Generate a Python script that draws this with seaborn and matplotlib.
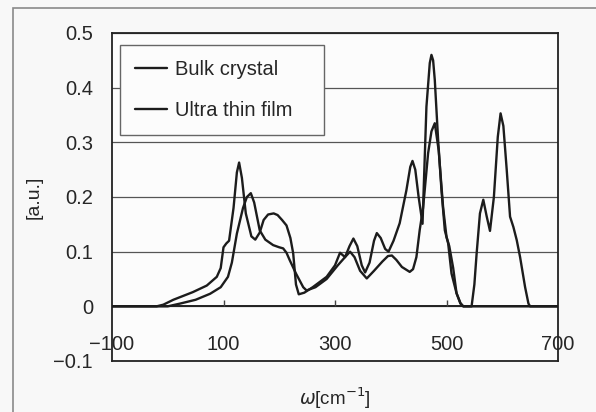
import numpy as np
import pandas as pd
import matplotlib.pyplot as plt
import seaborn as sns
from matplotlib.patches import Rectangle

# spectra
bulk_w = [-100, -20, -8, 10, 45, 70, 88, 95, 100, 105, 110, 118, 124, 128, 133, 140,
          150, 157, 165, 172, 180, 190, 197, 205, 213, 220, 225, 230, 235, 245, 260,
          285, 300, 309, 318, 326, 333, 340, 348, 354, 362, 370, 375, 382, 390, 396,
          405, 416, 428, 435, 439, 444, 450, 457, 464, 470, 473, 476, 479, 485, 491,
          497, 503, 509, 518, 525, 530, 700]
bulk_y = [0, 0, 0.003, 0.012, 0.026, 0.038, 0.054, 0.07, 0.108, 0.115, 0.12, 0.18,
          0.245, 0.263, 0.235, 0.17, 0.128, 0.122, 0.135, 0.158, 0.168, 0.170, 0.167,
          0.158, 0.148, 0.125, 0.097, 0.04, 0.022, 0.025, 0.035, 0.054, 0.075, 0.098,
          0.09, 0.11, 0.124, 0.11, 0.075, 0.062, 0.08, 0.12, 0.134, 0.125, 0.105, 0.1,
          0.12, 0.152, 0.212, 0.255, 0.266, 0.25, 0.2, 0.151, 0.365, 0.445, 0.46, 0.45,
          0.414, 0.304, 0.212, 0.139, 0.115, 0.06, 0.024, 0.006, 0, 0]

film_w = [-100, 0, 22, 50, 76, 95, 108, 115, 124, 135, 142, 149, 155, 165, 175, 189,
          200, 207, 213, 219, 230, 243, 249, 265, 285, 305, 318, 327, 335, 345, 357,
          370, 385, 395, 402, 410, 420, 434, 440, 446, 452, 458, 467, 473, 479, 486,
          494, 500, 505, 512, 518, 525, 530, 545, 550, 554, 560, 566, 572, 578, 585,
          592, 597, 602, 608, 614, 620, 626, 632, 641, 647, 650, 700]
film_y = [0, 0, 0.005, 0.012, 0.023, 0.035, 0.054, 0.08, 0.133, 0.18, 0.2, 0.207,
          0.19, 0.139, 0.122, 0.112, 0.108, 0.106, 0.098, 0.084, 0.06, 0.035, 0.029,
          0.035, 0.05, 0.075, 0.09, 0.1, 0.09, 0.065, 0.051, 0.065, 0.082, 0.092,
          0.093, 0.085, 0.072, 0.063, 0.068, 0.09, 0.14, 0.18, 0.28, 0.32, 0.335,
          0.285, 0.18, 0.127, 0.11, 0.07, 0.024, 0.005, 0, 0, 0.04, 0.096, 0.17,
          0.195, 0.165, 0.138, 0.2, 0.31, 0.353, 0.33, 0.25, 0.164, 0.145, 0.121,
          0.09, 0.035, 0.005, 0, 0]

labels = ['Bulk crystal', 'Ultra thin film']
xticks = [-100, 100, 300, 500, 700]
yticks = [-0.1, 0, 0.1, 0.2, 0.3, 0.4, 0.5]
ytick_labels = ['-0.1', '0', '0.1', '0.2', '0.3', '0.4', '0.5']

df = pd.concat([
    pd.DataFrame({'w': bulk_w, 'val': bulk_y, 'sample': labels[0]}),
    pd.DataFrame({'w': film_w, 'val': film_y, 'sample': labels[1]}),
])

sns.set_style('white')
plt.rcParams['font.family'] = ['Liberation Sans', 'DejaVu Sans']
plt.rcParams['font.size'] = 14

fig = plt.figure(figsize=(5.96, 4.12), dpi=100, facecolor='#f8f8f8')
ax = fig.add_axes([112 / 596, 51 / 412, 446 / 596, 328 / 412])
ax.set_facecolor('#fcfcfc')

sns.lineplot(data=df, x='w', y='val', hue='sample', palette=['#1c1c1c', '#1c1c1c'],
             linewidth=1.7, sort=False, estimator=None, ax=ax, zorder=3)

ax.set_xlim(-100, 700)
ax.set_ylim(-0.1, 0.5)
ax.set_yticks(yticks)
ax.set_yticklabels([t.replace('-', '\u2212') for t in ytick_labels])
ax.set_xticks(xticks)
ax.set_xticklabels([str(t).replace('-', '\u2212') for t in xticks])
ax.tick_params(axis='y', length=0, pad=13.7, labelsize=14.5)
ax.tick_params(axis='x', length=0, pad=-18.7, labelsize=14.5)

ax.yaxis.grid(True, color='#555555', lw=0.9)
ax.set_axisbelow(True)
ax.axhline(0, color='#222222', lw=1.4, zorder=2)
ax.vlines(xticks[1:-1], 0, 0.012, color='#444444', lw=1.0, zorder=2)

for s in ax.spines.values():
    s.set_visible(True)
    s.set_color('#222222')
    s.set_linewidth(1.3)

ax.set_xlabel(r'$\omega$[cm$^{-1}$]', fontsize=13.5)
ax.xaxis.set_label_coords(0.5, -0.074)
ax.set_ylabel('[a.u.]', fontsize=14)
ax.yaxis.set_label_coords(-0.155, 0.5)

leg = ax.legend(loc='upper left', bbox_to_anchor=(0.018, 0.695, 0.457, 0.268),
                mode='expand', borderaxespad=0,
                frameon=True, fancybox=False, edgecolor='#666666', framealpha=1,
                fontsize=14.5, handlelength=1.6, handletextpad=0.4, labelspacing=1.1,
                borderpad=0.75, title=None)
leg.get_frame().set_linewidth(1.0)
leg.get_frame().set_facecolor('#fcfcfc')

# outer chart border (cut off at the right and bottom edges of the scan)
fig.patches.append(Rectangle((13 / 596, -0.05), 1.0, 1.05 - 7.5 / 412, fill=False,
                             ec='#8a8a8a', lw=1.2, transform=fig.transFigure))

fig.savefig('out.png', dpi=100, facecolor=fig.get_facecolor())
